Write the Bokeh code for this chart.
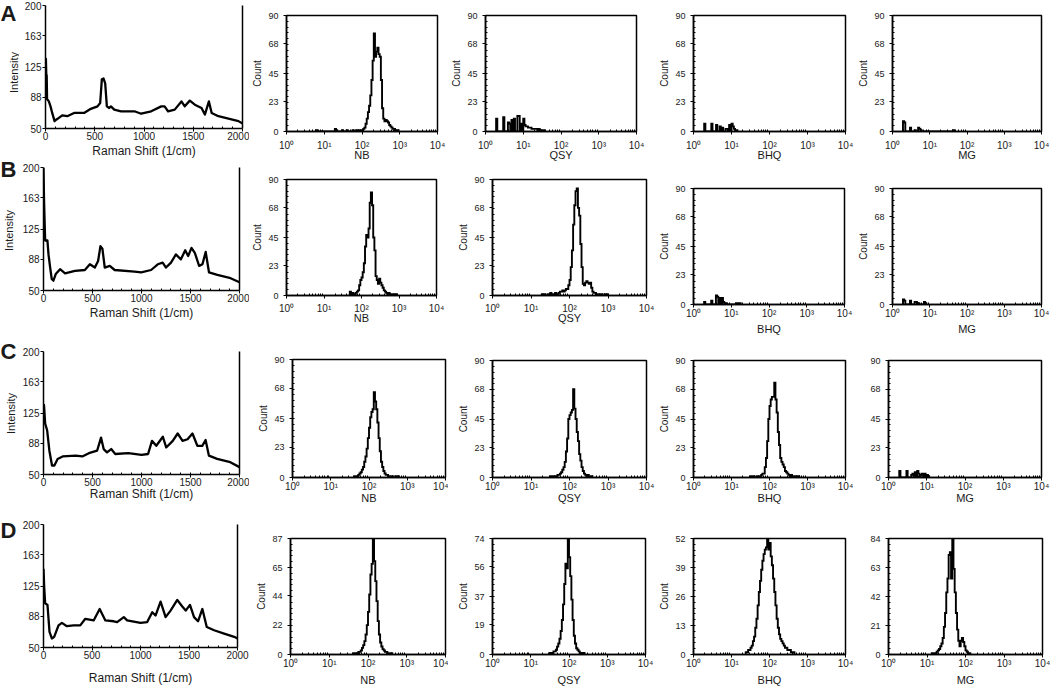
import math
from bokeh.plotting import figure
from bokeh.layouts import column, row
from bokeh.models import Range1d, FixedTicker, LinearAxis, CustomJSTickFormatter
from bokeh.core.properties import value
from bokeh.embed import file_html
from bokeh.resources import INLINE

# ---------------- data ----------------
RAMAN_XTICKS = [0, 500, 1000, 1500, 2000]
RAMAN_YTICKS = [50, 88, 125, 163, 200]

RAMAN_A_X = [0, 4, 8, 12, 16, 34, 51, 68, 92, 112, 136, 170, 221, 290, 392, 460, 528, 555, 572, 589, 606, 623, 647, 664, 698, 767, 903, 971, 1073, 1175, 1209, 1244, 1312, 1380, 1414, 1465, 1516, 1584, 1618, 1659, 1687, 1755, 1857, 1959, 2000]
RAMAN_A_Y = [130, 135, 115, 115, 86, 83, 77, 69, 59, 61, 63, 66, 65, 69, 69, 74, 77, 81, 110, 111, 105, 77, 75, 77, 73, 71, 71, 68, 71, 77, 77, 71, 73, 83, 77, 84, 79, 75, 67, 83, 69, 65, 62, 59, 56]

RAMAN_B_X = [0, 5, 10, 17, 40, 51, 68, 84, 101, 125, 169, 220, 321, 422, 473, 524, 557, 581, 601, 625, 676, 726, 929, 997, 1098, 1166, 1216, 1250, 1301, 1351, 1402, 1446, 1476, 1510, 1544, 1588, 1622, 1655, 1689, 1774, 1909, 2000]
RAMAN_B_Y = [200, 163, 140, 111, 111, 94, 78, 64, 62, 70, 76, 71, 74, 75, 82, 78, 86, 104, 101, 78, 80, 75, 73, 72, 75, 82, 84, 78, 84, 94, 88, 99, 92, 102, 96, 80, 82, 97, 72, 69, 65, 60]

RAMAN_C_X = [0, 5, 17, 37, 60, 87, 111, 144, 195, 329, 396, 463, 547, 587, 614, 648, 691, 732, 866, 1000, 1067, 1107, 1151, 1218, 1252, 1319, 1369, 1419, 1470, 1520, 1570, 1620, 1654, 1688, 1772, 1906, 2000]
RAMAN_C_Y = [130, 135, 112, 104, 79, 61, 61, 69, 72, 73, 72, 76, 79, 95, 81, 77, 81, 75, 76, 74, 75, 91, 85, 96, 83, 91, 100, 91, 93, 100, 85, 85, 92, 73, 69, 65, 59]

RAMAN_D_X = [0, 7, 17, 41, 62, 86, 110, 155, 190, 241, 310, 379, 431, 517, 579, 638, 724, 759, 828, 862, 1000, 1069, 1121, 1155, 1207, 1259, 1310, 1379, 1431, 1466, 1510, 1552, 1593, 1638, 1683, 1759, 1862, 1966, 2000]
RAMAN_D_Y = [146, 124, 104, 102, 69, 61, 63, 77, 80, 76, 77, 77, 85, 83, 97, 83, 82, 81, 87, 83, 80, 81, 93, 89, 106, 87, 95, 108, 100, 95, 102, 87, 82, 97, 75, 71, 67, 63, 61]

# flow histograms: channel c spans 10^(c/32) .. 10^((c+1)/32)
DECADE_TICKS = [1, 10, 100, 1000, 10000]
COUNT_TICKS_ABC = [0, 23, 45, 68, 90]
COUNT_TICKS_D_NB = [0, 22, 44, 65, 87]
COUNT_TICKS_D_QSY = [0, 19, 37, 56, 74]
COUNT_TICKS_D_BHQ = [0, 13, 26, 39, 52]
COUNT_TICKS_D_MG = [0, 21, 42, 63, 84]

NB_A_START = 25
NB_A = [1, 0, 0, 0, 0, 0, 0, 0, 0, 0, 0, 0, 0, 0, 0, 0,
        2, 1, 0, 0, 0, 0, 1, 0, 0, 0, 1, 0, 0, 0, 0, 1, 0, 0, 1, 0, 1, 1, 1,
        1, 2, 3, 6, 10, 15, 20, 28, 40, 55, 76, 58, 62, 65, 60, 58, 40, 18, 10, 8, 9, 8, 7, 5, 4, 3, 2, 2, 1, 1, 1]
QSY_A_CH = [9, 15, 19, 20, 22, 24, 27, 28, 30, 32, 33, 34, 35, 36, 37, 38, 39, 40, 41, 42, 43, 44, 45, 46, 47, 48, 49]
QSY_A_N = [10, 11, 7, 6, 9, 10, 12, 12, 6, 10, 5, 4, 4, 3, 3, 3, 2, 2, 2, 2, 2, 1, 2, 1, 1, 1, 1]
BHQ_A_CH = [9, 15, 19, 22, 24, 27, 28, 30, 32, 33, 34, 35, 36]
BHQ_A_N = [6, 6, 5, 4, 3, 2, 2, 5, 6, 4, 2, 1, 1]
MG_A_CH = [9, 10, 15, 19, 22, 23, 24, 52]
MG_A_N = [8, 7, 3, 1, 3, 2, 1, 1]

NB_B_START = 54
NB_B = [3, 1, 2, 1, 1, 2, 3, 4, 8, 12, 14, 18, 25, 38, 47, 45, 52, 72, 80, 70, 45, 35, 15, 12, 9, 13, 10, 8, 6, 4, 3, 2, 1, 2, 1, 1, 0, 1, 0, 1]
QSY_B_START = 40
QSY_B = [0, 1, 0, 1, 0, 0, 1, 0, 2, 1, 0, 1, 2, 1, 1, 2, 3, 3, 4, 3, 4, 5, 5, 8, 12, 22, 35, 55, 70, 81,
         83, 68, 62, 40, 22, 9, 8, 10, 11, 10, 9, 10, 6, 3, 2, 2, 1, 1, 1, 0, 1, 0, 0, 1, 0, 1]
BHQ_B_CH = [9, 15, 19, 20, 22, 24, 25, 27, 36, 38, 39]
BHQ_B_N = [2, 3, 7, 6, 5, 5, 2, 1, 1, 1, 1]
MG_B_CH = [9, 10, 15, 19, 20, 22, 27, 28]
MG_B_N = [4, 3, 3, 2, 2, 1, 2, 1]

NB_C_START = 52
NB_C = [1, 0, 1, 2, 3, 4, 6, 8, 12, 16, 22, 30, 38, 46, 50, 52, 65, 58, 52, 42, 30, 20, 12, 8, 5, 3, 2, 2, 1, 1, 0, 1, 0, 0, 1, 0, 1]
QSY_C_START = 48
QSY_C = [1, 0, 1, 0, 1, 1, 2, 2, 3, 4, 6, 8, 12, 20, 30, 45, 48, 50, 52, 68, 53, 45, 35, 28, 18, 13, 8, 5, 3, 2, 1, 2, 1, 0, 1]
BHQ_C_START = 48
BHQ_C = [1, 0, 1, 0, 0, 1, 0, 1, 1, 2, 3, 3, 8, 15, 28, 45, 55, 60, 62, 62, 73, 60, 50, 35, 25, 15, 12, 10, 8, 5, 4, 3, 2, 1, 2, 1, 0, 1, 0, 1, 1]
MG_C_CH = [9, 15, 19, 20, 22, 24, 25, 27, 28, 30, 32, 33]
MG_C_N = [5, 5, 2, 3, 4, 5, 3, 2, 3, 3, 2, 1]

NB_D_START = 52
NB_D = [1, 0, 1, 1, 2, 2, 3, 5, 7, 10, 15, 22, 32, 45, 60, 68, 87, 70, 55, 40, 25, 15, 9, 6, 4, 3, 2, 2, 1, 1, 0, 1]
QSY_D_START = 48
QSY_D = [1, 1, 1, 2, 2, 3, 5, 7, 10, 15, 22, 32, 45, 58, 55, 74, 62, 50, 35, 22, 12, 7, 4, 3, 2, 1, 1, 0, 1]
BHQ_D_START = 44
BHQ_D = [1, 1, 2, 2, 3, 4, 6, 8, 12, 16, 22, 28, 33, 38, 42, 45, 47, 48, 52, 47, 50, 44, 40, 34, 28, 22, 16, 12, 9, 7, 6, 5, 4, 3, 3, 2, 2, 2, 1, 1, 1]
MG_D_START = 36
MG_D = [1, 0, 1, 0, 2, 3, 4, 6, 8, 12, 20, 30, 45, 55, 72, 74, 55, 84, 62, 45, 30, 18, 10, 6, 10, 12, 9, 6, 3, 2, 1, 1]

# ---------------- layout (reference pixel coords) ----------------
FONT = "Liberation Sans"
INK = "#1a1a1a"
TOTAL_H = 688
STRIP_W = 19
COL_EDGES = [STRIP_W, 249, 448, 656, 855, 1050]
RAMAN_ROW_EDGES = [0, 160, 336, 509, 688]
HIST_ROW_EDGES = [0, 166, 340, 515, 688]

FRAMES = [
    [(45, 5, 242, 129), (283, 15, 437, 131), (483, 15, 636, 131), (692, 15, 845, 131), (887, 15, 1041, 131)],
    [(42, 167, 239, 290), (282, 179, 436, 295), (492, 179, 646, 295), (692, 188, 844, 304), (887, 188, 1041, 304)],
    [(41, 351, 239, 474), (292, 359, 445, 477), (492, 360, 646, 477), (692, 360, 845, 477), (888, 360, 1041, 477)],
    [(43, 524, 237, 647), (290, 538, 445, 654), (492, 538, 645, 654), (692, 538, 845, 654), (888, 538, 1042, 654)],
]
# (tick-label standoff, axis-label standoff) for histogram x axes
HIST_X_STANDOFF = [
    [(5, -5)] * 4,
    [(4, -5), (4, -5), (0, 1), (0, 1)],
    [(0, -3)] * 4,
    [(0, 2)] * 4,
]
RAMAN_X_LABEL_STANDOFF = [1, 1, -2, 9]

LETTERS = ["A", "B", "C", "D"]
LETTER_POS = [(8, 12.5), (8, 168.5), (8, 351), (8, 529.5)]
INTENSITY_POS = [(13, 72), (8, 230), (10, 413)]


def new_fig(edges, r, x0px, x1px, box, **kw):
    rt, rb = edges[r], edges[r + 1]
    fl, ft, fr, fb = box
    p = figure(width=x1px - x0px, height=rb - rt,
               min_border_left=fl - x0px, min_border_right=x1px - fr,
               min_border_top=ft - rt, min_border_bottom=rb - fb,
               output_backend="svg", toolbar_location=None,
               background_fill_color="white", border_fill_color="white", **kw)
    p.frame_align = False
    p.xgrid.visible = False
    p.ygrid.visible = False
    return p


def style_axis(ax, size):
    ax.axis_line_color = "black"
    ax.axis_line_width = 1.5
    ax.major_tick_line_color = "black"
    ax.minor_tick_line_color = "black"
    ax.major_label_text_font = FONT
    ax.major_label_text_font_size = f"{size}px"
    ax.major_label_text_color = INK
    ax.axis_label_text_font = FONT
    ax.axis_label_text_color = INK
    ax.axis_label_text_font_style = "normal"


def strip_fig():
    p = figure(width=STRIP_W, height=TOTAL_H, x_range=Range1d(0, STRIP_W), y_range=Range1d(TOTAL_H, 0),
               min_border=0, x_axis_location=None, y_axis_location=None,
               output_backend="svg", toolbar_location=None,
               background_fill_color="white", border_fill_color="white")
    p.frame_align = False
    p.outline_line_color = None
    p.xgrid.visible = False
    p.ygrid.visible = False
    p.text(x=[q[0] for q in LETTER_POS], y=[q[1] for q in LETTER_POS], text=LETTERS,
           text_font=value(FONT), text_font_size="22px", text_font_style="bold",
           text_align="center", text_baseline="middle", text_color=INK)
    p.text(x=[q[0] for q in INTENSITY_POS], y=[q[1] for q in INTENSITY_POS], text=["Intensity"] * 3,
           text_font=value(FONT), text_font_size="11px", angle=math.pi / 2,
           text_align="center", text_baseline="middle", text_color=INK)
    return p


RAMAN = [(RAMAN_A_X, RAMAN_A_Y), (RAMAN_B_X, RAMAN_B_Y), (RAMAN_C_X, RAMAN_C_Y), (RAMAN_D_X, RAMAN_D_Y)]


def raman_fig(r):
    p = new_fig(RAMAN_ROW_EDGES, r, COL_EDGES[0], COL_EDGES[1], FRAMES[r][0],
                x_range=Range1d(0, 2000), y_range=Range1d(50, 200))
    xs, ys = RAMAN[r]
    p.line(xs, ys, line_color="black", line_width=2.3, line_join="round")
    p.outline_line_color = None
    xa, ya = p.xaxis[0], p.yaxis[0]
    xa.ticker = FixedTicker(ticks=RAMAN_XTICKS, minor_ticks=list(range(100, 2000, 100)))
    ya.ticker = FixedTicker(ticks=RAMAN_YTICKS)
    for ax in (xa, ya):
        style_axis(ax, 10)
        ax.major_tick_out = 3
        ax.major_tick_in = 0
    xa.minor_tick_out = 0
    xa.minor_tick_in = 2
    ya.minor_tick_out = 0
    ya.minor_tick_in = 0
    xa.major_label_standoff = 0
    ya.major_label_standoff = 1
    xa.axis_label = "Raman Shift (1/cm)"
    xa.axis_label_text_font_size = "12px"
    xa.axis_label_standoff = RAMAN_X_LABEL_STANDOFF[r]
    right = LinearAxis(ticker=FixedTicker(ticks=[]), major_label_text_font_size="0px",
                       major_tick_out=0, major_tick_in=0, minor_tick_out=0, minor_tick_in=0,
                       major_label_standoff=0, axis_line_width=1.5, axis_line_color="black")
    p.add_layout(right, "right")
    return p


def dense(start, counts):
    return list(range(start, start + len(counts))), counts


HISTS = [
    [dense(NB_A_START, NB_A), (QSY_A_CH, QSY_A_N), (BHQ_A_CH, BHQ_A_N), (MG_A_CH, MG_A_N)],
    [dense(NB_B_START, NB_B), dense(QSY_B_START, QSY_B), (BHQ_B_CH, BHQ_B_N), (MG_B_CH, MG_B_N)],
    [dense(NB_C_START, NB_C), dense(QSY_C_START, QSY_C), dense(BHQ_C_START, BHQ_C), (MG_C_CH, MG_C_N)],
    [dense(NB_D_START, NB_D), dense(QSY_D_START, QSY_D), dense(BHQ_D_START, BHQ_D), dense(MG_D_START, MG_D)],
]
YTICKS = [[COUNT_TICKS_ABC] * 4, [COUNT_TICKS_ABC] * 4, [COUNT_TICKS_ABC] * 4,
          [COUNT_TICKS_D_NB, COUNT_TICKS_D_QSY, COUNT_TICKS_D_BHQ, COUNT_TICKS_D_MG]]
DYES = ["NB", "QSY", "BHQ", "MG"]
SHOW_COUNT = [[True, True, True, True], [True, True, True, True],
              [True, True, True, False], [True, True, True, False]]

LOG_MINOR = [k * 10 ** d for d in range(4) for k in range(2, 10)]
SUP_CODE = """
const s = {0: '\\u2070', 1: '\\u00b9', 2: '\\u00b2', 3: '\\u00b3', 4: '\\u2074'};
return '10' + s[Math.round(Math.log10(tick))];
"""


def step_xy(chs, ns):
    lo, hi = min(chs), max(chs)
    full = {c: 0 for c in range(lo, hi + 1)}
    for c, n in zip(chs, ns):
        full[c] = n
    xs, ys = [10 ** (lo / 32)], [0]
    for c in range(lo, hi + 1):
        xs += [10 ** (c / 32), 10 ** ((c + 1) / 32)]
        ys += [full[c], full[c]]
    xs.append(10 ** ((hi + 1) / 32))
    ys.append(0)
    return xs, ys


def hist_fig(r, k):
    yt = YTICKS[r][k]
    p = new_fig(HIST_ROW_EDGES, r, COL_EDGES[k + 1], COL_EDGES[k + 2], FRAMES[r][k + 1], x_axis_type="log",
                x_range=Range1d(1, 10000), y_range=Range1d(0, yt[-1]))
    xs, ys = step_xy(*HISTS[r][k])
    p.line(xs, ys, line_color="black", line_width=1.9, line_join="miter")
    p.outline_line_color = "black"
    p.outline_line_width = 1.5
    p.outline_line_alpha = 1.0
    xa, ya = p.xaxis[0], p.yaxis[0]
    xa.ticker = FixedTicker(ticks=DECADE_TICKS, minor_ticks=LOG_MINOR)
    xa.formatter = CustomJSTickFormatter(code=SUP_CODE)
    step = yt[-1] / 20
    ya.ticker = FixedTicker(ticks=yt, minor_ticks=[step * i for i in range(1, 20)])
    for ax in (xa, ya):
        style_axis(ax, 9)
        ax.major_tick_out = 3
        ax.major_tick_in = 0
        ax.minor_tick_out = 0
        ax.minor_tick_in = 2
    xa.major_label_text_font_size = "10px"
    s1, s2 = HIST_X_STANDOFF[r][k]
    xa.major_label_standoff = s1
    xa.axis_label = DYES[k]
    xa.axis_label_text_font_size = "11px"
    xa.axis_label_standoff = s2
    ya.major_label_standoff = 5
    if SHOW_COUNT[r][k]:
        ya.axis_label = "Count"
        ya.axis_label_text_font_size = "10px"
        ya.axis_label_standoff = 2
    return p


cols = [column(*[raman_fig(r) for r in range(4)])]
for k in range(4):
    cols.append(column(*[hist_fig(r, k) for r in range(4)]))
layout = row(strip_fig(), *cols)

open("out.html", "w").write(file_html(layout, INLINE))
